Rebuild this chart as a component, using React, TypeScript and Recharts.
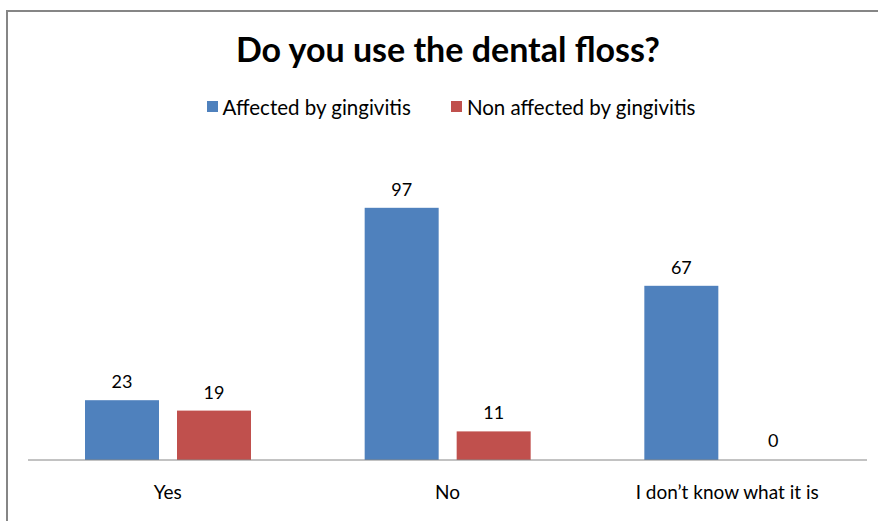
import React from 'react';
import { BarChart, Bar, XAxis, YAxis, LabelList } from 'recharts';

const categories = ['Yes', 'No', 'I don\u2019t know what it is'];
const affected = [23, 97, 67];
const nonAffected = [19, 11, 0];

const data = categories.map((name, i) => ({
  name,
  affected: affected[i],
  nonAffected: nonAffected[i],
}));

const BLUE = '#4F81BD';
const RED = '#C0504D';
const FONT = 'Lato, "Open Sans", sans-serif';

const LegendItem: React.FC<{ color: string; label: string }> = ({ color, label }) => (
  <span style={{ display: 'inline-flex', alignItems: 'center', margin: '0 20px' }}>
    <span style={{ width: 11, height: 11, background: color, display: 'inline-block', marginRight: 5 }} />
    {label}
  </span>
);

// zero-value bars: keep a 1px rect so the label is placed, but don't paint it
const BarShape = (props: any) => {
  const { x, y, width, height, fill, value } = props;
  if (!value) return null;
  return <rect x={x} y={y} width={width} height={height} fill={fill} />;
};

const App: React.FC = () => {
  return (
    <div style={{ position: 'absolute', left: 0, top: 0, width: 878, height: 521, overflow: 'hidden', background: '#fff', fontFamily: FONT }}>
      <div
        style={{
          position: 'absolute',
          left: 6,
          top: 10,
          width: 1000,
          height: 600,
          borderLeft: '2px solid #868686',
          borderTop: '2px solid #868686',
        }}
      />
      <div style={{ position: 'absolute', top: 28, left: 0, width: 896, textAlign: 'center', fontSize: 34, fontWeight: 700, color: '#000' }}>
        Do you use the dental floss?
      </div>
      <div style={{ position: 'absolute', top: 92, left: 0, width: 902, textAlign: 'center', fontSize: 20.5, color: '#000' }}>
        <LegendItem color={BLUE} label="Affected by gingivitis" />
        <LegendItem color={RED} label="Non affected by gingivitis" />
      </div>
      <div style={{ position: 'absolute', left: 0, top: 0 }}>
        <BarChart width={878} height={521} data={data} margin={{ top: 148, right: 11, bottom: 31, left: 28 }} barSize={74} barGap={18}>
          <XAxis
            dataKey="name"
            axisLine={{ stroke: '#868686' }}
            tickLine={false}
            tick={{ fill: '#000', fontSize: 19, fontFamily: FONT }}
            tickMargin={20}
            height={30}
            interval={0}
          />
          <YAxis hide domain={[0, 120]} />
          <Bar dataKey="affected" fill={BLUE} isAnimationActive={false} minPointSize={1} shape={BarShape}>
            <LabelList dataKey="affected" position="top" offset={12} fill="#000" fontSize={18} fontFamily={FONT} />
          </Bar>
          <Bar dataKey="nonAffected" fill={RED} isAnimationActive={false} minPointSize={1} shape={BarShape}>
            <LabelList dataKey="nonAffected" position="top" offset={12} fill="#000" fontSize={18} fontFamily={FONT} />
          </Bar>
        </BarChart>
      </div>
    </div>
  );
};

export default App;
